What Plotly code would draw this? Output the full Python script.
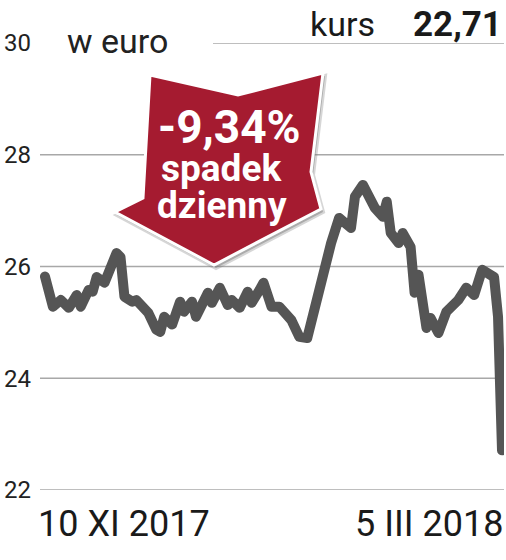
import plotly.graph_objects as go

dates = ["2017-11-10","2017-11-12","2017-11-14","2017-11-16","2017-11-18","2017-11-19","2017-11-21","2017-11-22",
         "2017-11-23","2017-11-25","2017-11-28","2017-11-29","2017-11-30","2017-12-02","2017-12-03","2017-12-06",
         "2017-12-08","2017-12-09","2017-12-10","2017-12-12","2017-12-14","2017-12-15","2017-12-17","2017-12-18",
         "2017-12-21","2017-12-22","2017-12-24","2017-12-26","2017-12-27","2017-12-29","2017-12-31","2018-01-01",
         "2018-01-03","2018-01-04","2018-01-06","2018-01-08","2018-01-11","2018-01-13","2018-01-15","2018-01-17",
         "2018-01-19","2018-01-21","2018-01-23","2018-01-26","2018-01-27","2018-01-29","2018-02-01","2018-02-03",
         "2018-02-04","2018-02-05","2018-02-07","2018-02-08","2018-02-10","2018-02-11","2018-02-12","2018-02-14",
         "2018-02-15","2018-02-17","2018-02-19","2018-02-22","2018-02-24","2018-02-26","2018-02-28","2018-03-03",
         "2018-03-04","2018-03-05"]
prices = [25.82,25.28,25.40,25.26,25.49,25.28,25.58,25.55,
          25.81,25.71,26.24,26.17,25.46,25.37,25.40,25.17,
          24.87,24.83,25.10,24.96,25.37,25.19,25.37,25.10,
          25.53,25.35,25.62,25.31,25.40,25.26,25.55,25.35,
          25.58,25.71,25.28,25.28,25.04,24.74,24.72,25.35,
          25.89,26.42,26.87,26.69,27.25,27.46,27.05,26.89,
          27.16,26.60,26.42,26.60,26.35,25.53,25.85,24.90,
          25.08,24.81,25.19,25.40,25.62,25.49,25.94,25.81,
          25.10,22.71]
y_ticks = [22, 24, 26, 28, 30]
x_labels = ["10 XI 2017", "5 III 2018"]
unit_label = "w euro"
last_label = "kurs"
last_value = "22,71"
badge_lines = ["-9,34%", "spadek", "dzienny"]

W, H = 506, 560
L, R, T, B = 40, 2, 43, 70
pw, ph = W - L - R, H - T - B

def px(x):
    return (x - L) / pw

def py(y):
    return (H - B - y) / ph

fig = go.Figure()
fig.add_trace(go.Scatter(x=dates, y=prices, mode="lines",
                         line=dict(color="#555555", width=10, shape="linear"),
                         hoverinfo="skip", showlegend=False))

shapes = []
for v in y_ticks[:-1]:
    shapes.append(dict(type="line", xref="paper", yref="y", x0=0, x1=1, y0=v, y1=v,
                       line=dict(color="#a8a8a8", width=1.5), layer="below"))
shapes.append(dict(type="line", xref="paper", yref="y", x0=px(213), x1=1, y0=y_ticks[-1], y1=y_ticks[-1],
                   line=dict(color="#a8a8a8", width=1.5), layer="below"))

arrow_pts = [(150, 75), (238, 95), (323, 73), (311, 172), (321, 209), (214, 265), (115, 212), (143, 198)]

def path(pts, dx=0, dy=0):
    s = "M " + " L ".join(f"{px(x+dx):.5f},{py(y+dy):.5f}" for x, y in pts) + " Z"
    return s

shapes.append(dict(type="path", xref="paper", yref="paper", path=path(arrow_pts, 2, 3),
                   fillcolor="rgba(120,120,120,0.45)", line=dict(color="rgba(120,120,120,0.3)", width=4), layer="above"))
shapes.append(dict(type="path", xref="paper", yref="paper", path=path(arrow_pts),
                   fillcolor="#a51b30", line=dict(color="white", width=3), layer="above"))

annotations = [
    dict(text=unit_label, xref="paper", yref="paper", x=px(65), y=py(41), xanchor="left", yanchor="middle",
         showarrow=False, font=dict(family="Roboto", size=34, color="#222222")),
    dict(text=last_label, xref="paper", yref="paper", x=px(308), y=py(24), xanchor="left", yanchor="middle",
         showarrow=False, font=dict(family="Roboto", size=34, color="#1a1a1a")),
    dict(text="<b>" + last_value + "</b>", xref="paper", yref="paper", x=px(504), y=py(24), xanchor="right", yanchor="middle",
         showarrow=False, font=dict(family="Roboto", size=35, color="#1a1a1a")),
    dict(text=x_labels[0], xref="paper", yref="paper", x=px(36), y=py(524), xanchor="left", yanchor="middle",
         showarrow=False, font=dict(family="Roboto", size=36, color="#1a1a1a")),
    dict(text=x_labels[1], xref="paper", yref="paper", x=px(505), y=py(524), xanchor="right", yanchor="middle",
         showarrow=False, font=dict(family="Roboto", size=36, color="#1a1a1a")),
    dict(text="<b>" + badge_lines[0] + "</b>", xref="paper", yref="paper", x=px(229), y=py(127), xanchor="center", yanchor="middle",
         showarrow=False, font=dict(family="Roboto", size=46, color="white")),
    dict(text="<b>" + badge_lines[1] + "</b>", xref="paper", yref="paper", x=px(221), y=py(168), xanchor="center", yanchor="middle",
         showarrow=False, font=dict(family="Roboto", size=37, color="white")),
    dict(text="<b>" + badge_lines[2] + "</b>", xref="paper", yref="paper", x=px(222), y=py(206), xanchor="center", yanchor="middle",
         showarrow=False, font=dict(family="Roboto", size=37, color="white")),
]

fig.update_layout(
    width=W, height=H, margin=dict(l=L, r=R, t=T, b=B),
    paper_bgcolor="white", plot_bgcolor="white",
    shapes=shapes, annotations=annotations,
    xaxis=dict(type="date", range=["2017-11-08 18:00", "2018-03-05 12:00"], showgrid=False,
               showticklabels=False, zeroline=False, showline=False, fixedrange=True),
    yaxis=dict(range=[22, 30], tickvals=y_ticks, ticktext=[str(v) for v in y_ticks], showgrid=False,
               zeroline=False, showline=False, ticks="", ticklabelstandoff=8,
               tickfont=dict(family="Roboto", size=24, color="#222222"), fixedrange=True),
    showlegend=False,
)
post = ("document.body.style.margin='0px';document.body.style.overflow='hidden';"
        "document.querySelectorAll('.scatterlayer path.js-line').forEach(function(p){"
        "p.style.strokeLinejoin='round';p.style.strokeLinecap='round';});")
fig.write_html("out.html", post_script=post, config={"displayModeBar": False})
